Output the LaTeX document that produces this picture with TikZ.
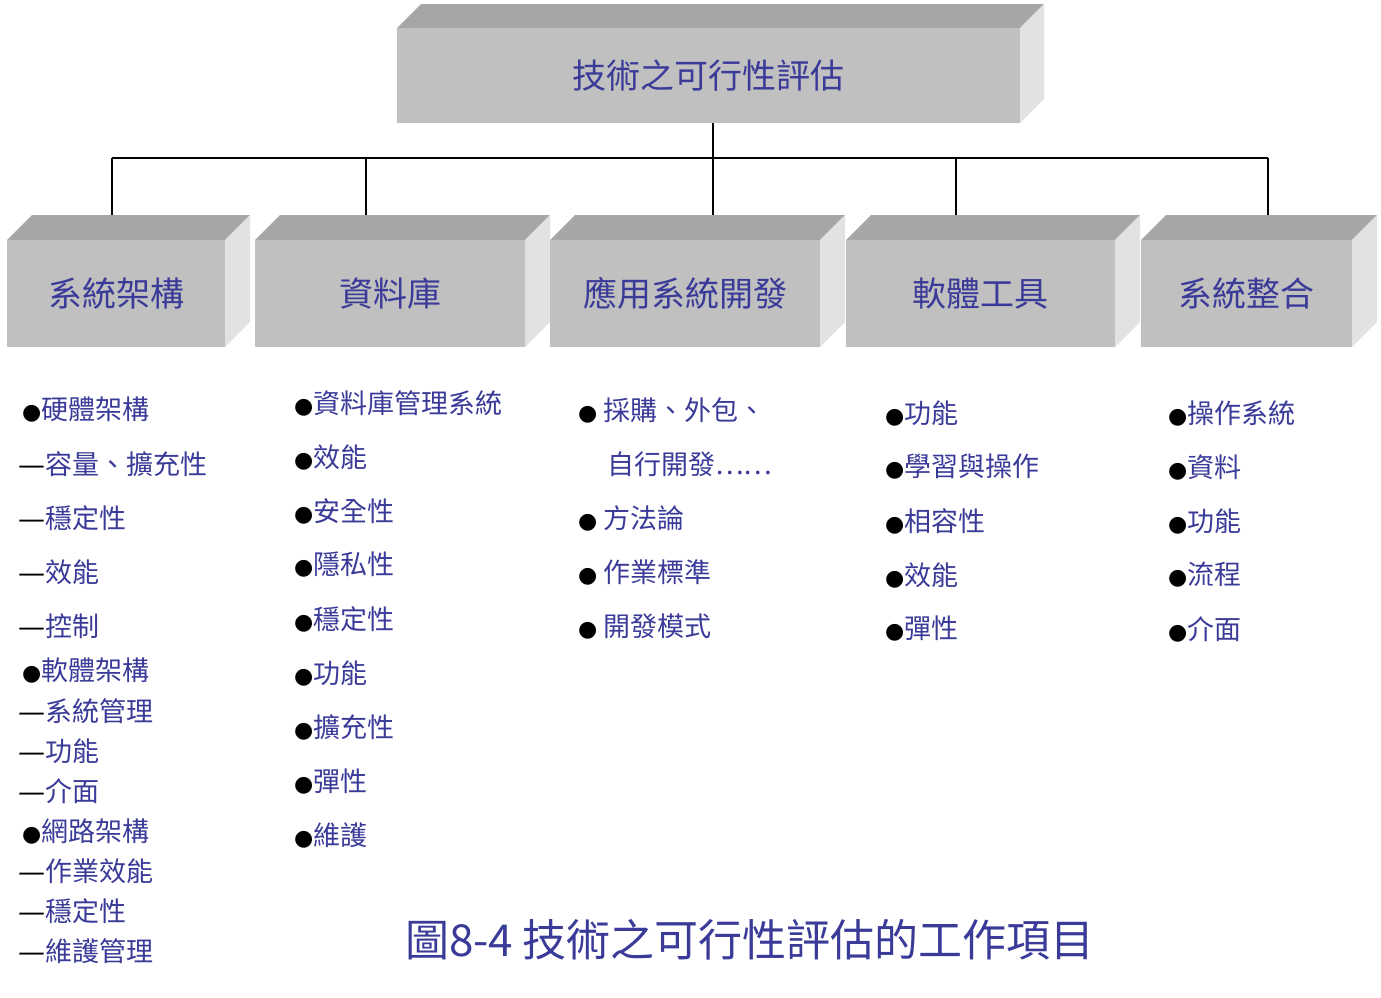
\documentclass[tikz,border=0pt]{standalone}
\usepackage{fontspec}
\newfontfamily\cjk{Noto Sans CJK TC}
\newfontfamily\dv{DejaVu Sans}
\definecolor{tx}{HTML}{3A3A99}
\definecolor{fr}{HTML}{C0C0C0}
\definecolor{tp}{HTML}{A6A6A6}
\definecolor{sd}{HTML}{E2E2E2}
\begin{document}
\begin{tikzpicture}[x=1pt,y=-1pt,
 lab/.style={text=tx,font=\cjk\fontsize{34}{36}\selectfont,inner sep=0},
 it/.style={anchor=west,text=tx,font=\cjk\fontsize{27}{29}\selectfont,inner sep=0},
 ln/.style={line width=1.2pt}]
\useasboundingbox (0,0) rectangle (1381,997);
\newcommand{\cube}[6]{% x1 y1 x2 y2 off name
 \fill[tp] (#1,#2)--(#1+#5,#2-#5)--(#3+#5,#2-#5)--(#3,#2)--cycle;
 \fill[sd] (#3,#2)--(#3+#5,#2-#5)--(#3+#5,#4-#5)--(#3,#4)--cycle;
 \fill[fr] (#1,#2) rectangle (#3,#4);
 \coordinate (#6) at ({(#1+#3)/2},{(#2+#4)/2});
 \coordinate (#6t) at ({(#1+#3)/2+#5/2},#2-#5);}
\cube{397}{28}{1020}{123}{24}{r}
\cube{7}{240}{225}{347}{25}{a}
\cube{255}{240}{525}{347}{25}{b}
\cube{550}{240}{820}{347}{25}{c}
\cube{846}{240}{1115}{347}{25}{d}
\cube{1141}{240}{1352}{347}{25}{e}
\node[lab] (rl) at (r) {技術之可行性評估};
\node[lab] (al) at (a) {系統架構};
\node[lab] (bl) at (b) {資料庫};
\node[lab] (cl) at (c) {應用系統開發};
\node[lab] (dl) at (d) {軟體工具};
\node[lab] (el) at (e) {系統整合};
\coordinate (rb) at (713,123);
\coordinate (h) at (713,158);
\draw[ln] (rb)--(h);
\draw[ln] (112,158)--(1268,158);
\foreach \x in {112,366,713,956,1268} \draw[ln] (\x,158)--(\x,215);
\newcommand{\bu}{{\color{black}\dv\fontsize{22}{24}\selectfont●}}
\newcommand{\da}{{\color{black}\dv\fontsize{27}{29}\selectfont—}}
\node[it] (a1) at (22,410) {\bu 硬體架構};
\node[it] (a2) at (18,464) {\da 容量、擴充性};
\node[it] (a3) at (18,518) {\da 穩定性};
\node[it] (a4) at (18,572) {\da 效能};
\node[it] (a5) at (18,626) {\da 控制};
\node[it] (a6) at (22,670) {\bu 軟體架構};
\node[it] (a7) at (18,711) {\da 系統管理};
\node[it] (a8) at (18,751) {\da 功能};
\node[it] (a9) at (18,791) {\da 介面};
\node[it] (a10) at (22,831) {\bu 網路架構};
\node[it] (a11) at (18,871) {\da 作業效能};
\node[it] (a12) at (18,911) {\da 穩定性};
\node[it] (a13) at (18,951) {\da 維護管理};
\foreach \t [count=\i] in {資料庫管理系統,效能,安全性,隱私性,穩定性,功能,擴充性,彈性,維護}
 \node[it] (b\i) at (294,{403+54*(\i-1)}) {\bu\t};
\node[it] (c1) at (578,410) {\bu\ 採購、外包、};
\node[it] (c2) at (607,464) {自行開發……};
\node[it] (c3) at (578,518) {\bu\ 方法論};
\node[it] (c4) at (578,572) {\bu\ 作業標準};
\node[it] (c5) at (578,626) {\bu\ 開發模式};
\foreach \t [count=\i] in {功能,學習與操作,相容性,效能,彈性}
 \node[it] (d\i) at (885,{413+54*(\i-1)}) {\bu\t};
\foreach \t [count=\i] in {操作系統,資料,功能,流程,介面}
 \node[it] (e\i) at (1168,{413+54*(\i-1)}) {\bu\t};
\node[text=tx,font=\cjk\fontsize{44}{46}\selectfont,inner sep=0] (cap) at (750,940) {圖8-4 技術之可行性評估的工作項目};
\end{tikzpicture}
\end{document}
